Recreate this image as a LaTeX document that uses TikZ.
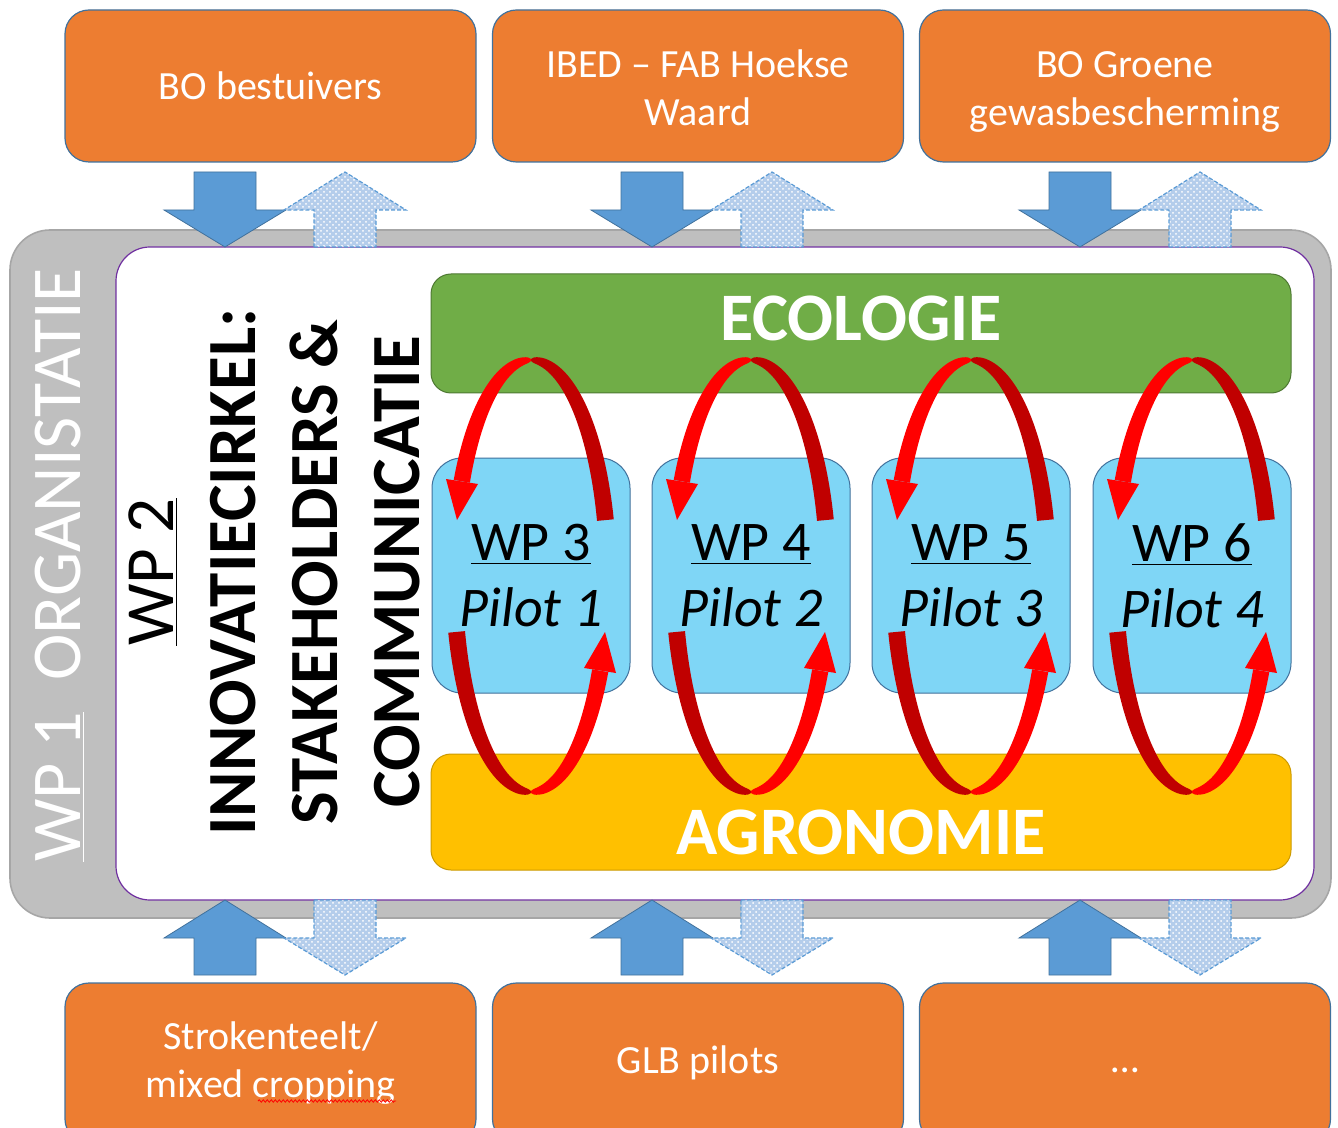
\documentclass[tikz,border=0pt]{standalone}
\usepackage{fontspec}
\setmainfont{Carlito}
\usetikzlibrary{patterns, decorations.pathmorphing}

\definecolor{boxorange}{HTML}{ED7D31}
\definecolor{boxedge}{HTML}{41719C}
\definecolor{framegray}{HTML}{BFBFBF}
\definecolor{frameedge}{HTML}{A6A6A6}
\definecolor{innerpurple}{HTML}{7030A0}
\definecolor{ecogreen}{HTML}{70AD47}
\definecolor{agroyellow}{HTML}{FFC000}
\definecolor{pilotblue}{HTML}{7FD6F6}
\definecolor{arrowblue}{HTML}{5B9BD5}
\definecolor{arrowpale}{HTML}{B4CDEB}
\definecolor{cycledark}{HTML}{C00000}
\definecolor{cyclelight}{HTML}{FF0000}

\tikzset{
  orangebox/.style={draw=boxedge, line width=0.6pt, fill=boxorange, rounded corners=12pt,
    minimum width=205.5pt, minimum height=76pt, text=white, align=center,
    font=\fontsize{20}{24}\selectfont},
  pilotbox/.style={draw=boxedge, line width=0.5pt, fill=pilotblue, rounded corners=15pt,
    minimum width=99pt, minimum height=117.5pt, align=center,
    font=\fontsize{28}{33}\selectfont},
  barbox/.style={rounded corners=10pt, line width=0.5pt, minimum width=430pt},
  bartext/.style={text=white, font=\fontsize{34}{40}\selectfont\bfseries},
  solidarrow/.style={fill=arrowblue, draw=boxedge, line width=0.4pt},
  dotarrow/.style={preaction={fill=arrowpale}, pattern=crosshatch dots, pattern color=white,
    draw=arrowblue, line width=0.6pt, dash pattern=on 2pt off 1pt},
}

\begin{document}
\begin{tikzpicture}[x=0.5pt, y=-0.5pt,
  declare function={
    rw(\t)=8.5*pow(abs(cos(\t))+0.002,0.35);
    rn(\t)=sqrt((cos(\t))^2+(0.356*sin(\t))^2);
    ox(\t)=77*cos(\t)+rw(\t)*cos(\t)/rn(\t);
    oy(\t)=216*sin(\t)+0.356*rw(\t)*sin(\t)/rn(\t);
    ix(\t)=77*cos(\t)-rw(\t)*cos(\t)/rn(\t);
    iy(\t)=216*sin(\t)-0.356*rw(\t)*sin(\t)/rn(\t);
  }]
  \useasboundingbox (0,0) rectangle (1338,1128);
  \clip (0,0) rectangle (1338,1128);

  % WP 1 frame and WP 2 field
  \draw[fill=framegray, draw=frameedge, line width=0.8pt, rounded corners=20pt] (10,230) rectangle (1331,918);
  \draw[fill=white, draw=innerpurple, line width=0.6pt, rounded corners=17pt] (116,247) rectangle (1314,900);
  \node[rotate=90, text=white, font=\fontsize{35}{42}\selectfont] (wp1) at (60,565) {\underline{WP 1}\ \ ORGANISTATIE};
  \node[rotate=90, align=center, font=\fontsize{34.5}{41}\selectfont] (wp2) at (274,572)
    {\underline{WP 2}\\ \textbf{INNOVATIECIRKEL:}\\ \textbf{STAKEHOLDERS \&}\\ \textbf{COMMUNICATIE}};

  % in and out arrows
  \foreach \ax in {225,652,1080} {
    \draw[solidarrow] ({\ax-31},172) -- ({\ax+31},172) -- ({\ax+31},210) -- ({\ax+61},210) -- (\ax,247) -- ({\ax-61},210) -- ({\ax-31},210) -- cycle;
    \draw[dotarrow] ({\ax+89},247) -- ({\ax+151},247) -- ({\ax+151},210) -- ({\ax+181},210) -- ({\ax+120},172) -- ({\ax+59},210) -- ({\ax+89},210) -- cycle;
    \draw[solidarrow] ({\ax-31},975) -- ({\ax+31},975) -- ({\ax+31},938) -- ({\ax+61},938) -- (\ax,900) -- ({\ax-61},938) -- ({\ax-31},938) -- cycle;
    \draw[dotarrow] ({\ax+89},900) -- ({\ax+151},900) -- ({\ax+151},938) -- ({\ax+181},938) -- ({\ax+120},975) -- ({\ax+59},938) -- ({\ax+89},938) -- cycle;
  }

  % partners
  \node[orangebox] (bestuivers) at (270.5,86) {BO bestuivers};
  \node[orangebox] (ibed) at (698,86) {\rule{0pt}{16pt}IBED – FAB Hoekse\\Waard};
  \node[orangebox] (groene) at (1125,86) {\rule{0pt}{19pt}BO Groene\\gewasbescherming};
  \node[orangebox, minimum height=80pt] (stroken) at (270.5,1063) {Strokenteelt/\\mixed cropping};
  \node[orangebox, minimum height=80pt] (glb) at (698,1063) {GLB pilots};
  \node[orangebox, minimum height=80pt] (overig) at (1125,1063) {\vphantom{Ag}\ldots};
  \draw[red, line width=0.4pt, decorate, decoration={snake, amplitude=0.6pt, segment length=2pt}] (258,1101) -- (396,1101);

  % ecologie / agronomie
  \node[barbox, fill=ecogreen, draw=ecogreen!70!black, minimum height=59.5pt] (ecobar) at (861,333.5) {};
  \node[bartext] (ecotxt) at (861,318) {ECOLOGIE};
  \node[barbox, fill=agroyellow, draw=agroyellow!80!black, minimum height=58pt] (agrobar) at (861,812) {};
  \node[bartext] (agrotxt) at (861,832) {AGRONOMIE};

  % pilots with their cycles
  \foreach \cx/\wp/\pl in {531/3/1, 751/4/2, 971/5/3, 1192/6/4} {
    \node[pilotbox] (wp\wp) at (\cx,575.5) {\underline{WP \wp}\\\textit{Pilot \pl}};
    \fill[cycledark] plot[domain=-15:-90, samples=40] ({\cx+ox(\x)},{576+oy(\x)})
      -- plot[domain=-90:-15, samples=40] ({\cx+ix(\x)},{576+iy(\x)}) -- cycle;
    \fill[cyclelight] plot[domain=-90:-154, samples=40] ({\cx+ox(\x)},{576+oy(\x)})
      -- plot[domain=-154:-90, samples=40] ({\cx+ix(\x)},{576+iy(\x)}) -- cycle;
    \fill[cyclelight] ({\cx-85},479) -- ({\cx-53},484) -- ({\cx-74},520) -- cycle;
    \fill[cycledark] plot[domain=165:90, samples=40] ({\cx+ox(\x)},{576+oy(\x)})
      -- plot[domain=90:165, samples=40] ({\cx+ix(\x)},{576+iy(\x)}) -- cycle;
    \fill[cyclelight] plot[domain=90:26, samples=40] ({\cx+ox(\x)},{576+oy(\x)})
      -- plot[domain=26:90, samples=40] ({\cx+ix(\x)},{576+iy(\x)}) -- cycle;
    \fill[cyclelight] ({\cx+53},668) -- ({\cx+85},673) -- ({\cx+74},632) -- cycle;
  }
\end{tikzpicture}
\end{document}
